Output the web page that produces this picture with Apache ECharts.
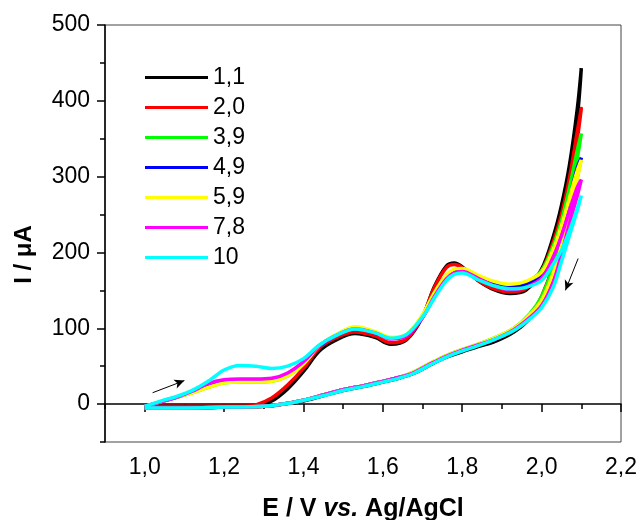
<!DOCTYPE html>
<html><head><meta charset="utf-8">
<script src="https://cdn.jsdelivr.net/npm/echarts@6/dist/echarts.min.js"></script>
<style>html,body{margin:0;padding:0;background:#fff}#c{width:639px;height:520px}</style>
</head><body><div id="c"></div>
<script>
const names = ['1,1','2,0','3,9','4,9','5,9','7,8','10'];
const colors = ['#000000','#ff0000','#00ff00','#0000ff','#ffff00','#ff00ff','#00ffff'];
const xTicks = [1.0,1.2,1.4,1.6,1.8,2.0,2.2];
const yTicks = [0,100,200,300,400,500];
// forward scan potentials (V)
const fx = [1.00,1.04,1.08,1.12,1.16,1.20,1.24,1.28,1.32,1.36,1.40,1.44,1.48,1.53,1.58,1.62,1.66,1.70,1.73,1.76,1.78,1.80,1.84,1.88,1.92,1.96,2.00,2.03,2.05,2.07,2.09,2.10];
// reverse scan potentials (V)
const rx = [2.10,2.09,2.07,2.05,2.03,2.00,1.97,1.93,1.88,1.84,1.80,1.76,1.72,1.68,1.64,1.60,1.55,1.50,1.45,1.40,1.35,1.30,1.20,1.10,1.00];
// currents (µA)
const fwd11 = [-3,-3,-3,-3,-3,-3,-3,-2,4,20,43,70,84,93,88,79,85,115,155,182,186,181,163,151,146,150,178,222,262,315,390,443];
const fwd20 = [-3,-3,-3,-3,-3,-3,-3,-1,8,25,47,74,87,95,90,81,86,116,154,180,184,180,163,152,148,152,176,215,250,298,360,390];
const fwd39 = [-3,3,9,15,22,28,29,29,30,37,53,76,90,101,95,87,91,117,147,170,177,178,169,160,155,160,176,210,242,285,335,357];
const fwd49 = [-3,3,9,16,24,30,31,31,32,38,54,76,90,100,94,87,91,116,146,169,176,177,168,159,154,158,172,203,232,270,312,325];
const fwd59 = [-3,3,9,15,22,28,29,29,30,37,53,77,91,102,96,88,92,118,147,170,178,179,170,162,158,162,174,205,235,272,308,322];
const fwd78 = [-3,3,9,17,27,32,33,33,34,41,56,77,90,99,94,86,90,114,142,165,173,175,166,156,151,154,166,195,222,255,286,296];
const fwd10 = [-3,4,10,18,30,45,51,50,47,50,60,78,90,99,94,87,92,115,140,163,171,173,164,156,152,154,163,185,203,228,258,275];
const rev11 = [443,378,300,240,185,140,113,95,82,76,69,62,52,41,34,29,23,18,11,4,0,-3,-4,-5,-5];
const rev20 = [390,350,288,235,185,142,116,98,85,78,71,63,53,42,35,30,24,19,12,5,0,-3,-4,-5,-5];
const rev39 = [357,325,270,222,182,142,119,100,87,79,72,64,54,43,35,30,24,19,12,5,0,-3,-4,-5,-5];
const rev49 = [325,300,255,212,172,135,116,99,86,78,71,63,53,42,35,30,24,19,12,5,0,-3,-4,-5,-5];
const rev59 = [322,298,252,210,174,137,118,100,87,79,72,64,54,43,35,30,24,19,12,5,0,-3,-4,-5,-5];
const rev78 = [296,275,238,198,162,130,114,98,85,78,71,63,53,42,35,30,24,19,12,5,0,-3,-4,-5,-5];
const rev10 = [275,256,222,188,155,127,112,97,85,77,70,62,52,41,34,29,23,18,11,5,0,-3,-4,-5,-5];
const forwards = [fwd11,fwd20,fwd39,fwd49,fwd59,fwd78,fwd10];
const reverses = [rev11,rev20,rev39,rev49,rev59,rev78,rev10];
// scan direction arrows [start, end] in data coords
const arrowUp = [[1.02,15],[1.10,31]];
const arrowDown = [[2.092,192],[2.06,150]];

const FONT = 'Liberation Sans, Arial, sans-serif';
const chart = echarts.init(document.getElementById('c'), null, {renderer:'canvas'});
const series = names.map((n,i) => ({
  name: n, type: 'line', xAxisIndex: 0, yAxisIndex: 0,
  data: fx.map((x,k)=>[x, forwards[i][k]]).concat(rx.map((x,k)=>[x, reverses[i][k]])),
  showSymbol: false, symbol: 'none', smooth: 0.35,
  lineStyle: {color: colors[i], width: 3.5}, itemStyle: {color: colors[i]},
  z: 2 + i
}));
series.push({
  type: 'line', xAxisIndex: 0, yAxisIndex: 0, data: [], silent: true,
  markLine: {
    silent: true, symbol: ['none','arrow'], symbolSize: [7,10],
    label: {show: false},
    lineStyle: {color: '#000', width: 1, type: 'solid'},
    data: [
      [{coord: arrowUp[0]}, {coord: arrowUp[1]}],
      [{coord: arrowDown[0]}, {coord: arrowDown[1]}]
    ]
  }
});
const fmtX = v => (Math.round(v*10)/10).toFixed(1).replace('.', ',');
chart.setOption({
  animation: false,
  backgroundColor: '#fff',
  grid: {left: 105, top: 25, right: 18, bottom: 78, outerBoundsMode: 'none', containLabel: false,
         show: true, borderColor: '#444', borderWidth: 1, backgroundColor: 'transparent'},
  legend: {
    data: names, orient: 'vertical', left: 145, top: 66, padding: 0, itemWidth: 63, itemHeight: 3, itemGap: 7,
    icon: 'rect', textStyle: {fontFamily: FONT, fontSize: 23, color: '#000'}
  },
  xAxis: [
    {type: 'value', min: 0.9, max: 2.2, position: 'bottom',
     name: '{b|E / V }{i|vs.}{b| Ag/AgCl}', nameLocation: 'middle', nameGap: 55,
     nameTextStyle: {rich: {
       b: {fontFamily: FONT, fontSize: 25, fontWeight: 'bold', color: '#000'},
       i: {fontFamily: FONT, fontSize: 25, fontWeight: 'bold', fontStyle: 'italic', color: '#000'}}},
     axisLine: {show: true, lineStyle: {color: '#000', width: 1.5}},
     axisTick: {show: true, customValues: xTicks, length: 8, lineStyle: {color: '#000', width: 1.5}},
     axisLabel: {customValues: xTicks, formatter: fmtX, fontFamily: FONT, fontSize: 23, color: '#000', margin: 14},
     splitLine: {show: false}},
    {type: 'value', min: 0.9, max: 2.2, interval: 0.1, position: 'bottom',
     axisLine: {show: false}, axisLabel: {show: false}, splitLine: {show: false},
     axisTick: {show: true, length: 5, lineStyle: {color: '#000', width: 1.5}}}
  ],
  yAxis: [
    {type: 'value', min: -50, max: 500, position: 'left',
     name: '{b|I / μA}{s|}', nameLocation: 'middle', nameGap: 69, nameRotate: 90,
     nameTextStyle: {rich: {
       b: {fontFamily: FONT, fontSize: 24, fontWeight: 'bold', color: '#000'},
       s: {width: 42, height: 10}}},
     axisLine: {show: true, lineStyle: {color: '#000', width: 1.5}},
     axisTick: {show: true, customValues: yTicks, length: 8, lineStyle: {color: '#000', width: 1.5}},
     axisLabel: {customValues: yTicks, fontFamily: FONT, fontSize: 23, color: '#000', margin: 15},
     splitLine: {show: false}},
    {type: 'value', min: -50, max: 500, interval: 50, position: 'left',
     axisLine: {show: false}, axisLabel: {show: false}, splitLine: {show: false},
     axisTick: {show: true, length: 5, lineStyle: {color: '#000', width: 1.5}}}
  ],
  series: series
});
</script>
</body></html>
